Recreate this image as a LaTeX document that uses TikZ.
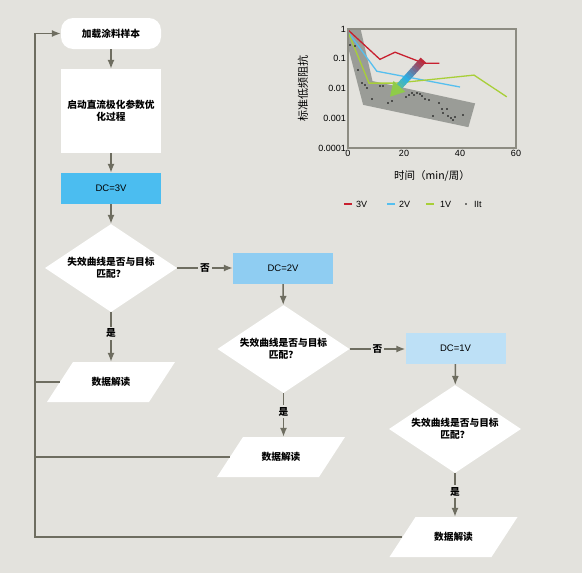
\documentclass[tikz,border=0pt]{standalone}
\usepackage{fontspec}
\setmainfont{Liberation Sans}
\newfontfamily\cjk{Noto Sans CJK SC}
\usetikzlibrary{arrows.meta,shapes.geometric}

\definecolor{bg}{HTML}{E3E2DD}
\definecolor{linec}{HTML}{6E6D60}
\definecolor{dcA}{HTML}{4BBDF0}
\definecolor{dcB}{HTML}{8FCDF2}
\definecolor{dcC}{HTML}{BDE0F6}
\definecolor{bandc}{HTML}{9A9C97}
\definecolor{frame}{HTML}{8D8C82}
\definecolor{cred}{HTML}{C8202F}
\definecolor{cblue}{HTML}{55BFEF}
\definecolor{cgreen}{HTML}{A8CF38}
\definecolor{amid}{HTML}{2AAFE6}
\definecolor{atip}{HTML}{8FCB4A}

\begin{document}
\begin{tikzpicture}[x=1pt,y=-1pt,
  conn/.style={line width=1.4pt,draw=linec},
  arr/.style={conn,-{Latex[length=9pt,width=7pt]}},
  txt/.style={font=\cjk\bfseries\fontsize{9.7}{12}\selectfont,align=center},
  box/.style={txt,fill=white,minimum width=100pt,minimum height=31pt,inner sep=0pt},
  dcbox/.style={box,font=\fontsize{9.5}{12}\selectfont},
  ask/.style={txt,diamond,fill=white,minimum width=132pt,minimum height=88pt,inner sep=0pt,aspect=1.5},
  io/.style={txt,minimum width=102pt,minimum height=40pt,inner sep=0pt},
  lab/.style={txt,fill=bg,inner sep=2pt},
  tick/.style={font=\fontsize{9}{10}\selectfont,inner sep=2pt},
  curve/.style={line width=1.3pt}]

\fill[bg] (0,0) rectangle (582,573);

\def\rail{35}

\node[box,rounded corners=12pt] (S) at (111,33.5) {加载涂料样本};
\node[box,minimum height=84pt] (P) at (111,111) {启动直流极化参数优\\化过程};
\node[dcbox,fill=dcA] (D3) at (111,188.5) {DC=3V};
\node[ask] (Q1) at (111,268) {失效曲线是否与目标\\匹配？};

\node[dcbox,fill=dcB] (D2) at (283,268.5) {DC=2V};
\node[ask] (Q2) at (283.5,349) {失效曲线是否与目标\\匹配？};

\node[dcbox,fill=dcC] (D1) at (455.5,348.5) {DC=1V};
\node[ask] (Q3) at (455,429) {失效曲线是否与目标\\匹配？};

\foreach \n/\x/\y in {R1/111/382,R2/281/457,R3/453.5/537}{
  \fill[white] (\x-64,\y+20) -- (\x+38,\y+20) -- (\x+64,\y-20) -- (\x-38,\y-20) -- cycle;
  \node[io] (\n) at (\x,\y) {数据解读};
}

\draw[arr] (S) -- (P);
\draw[arr] (P) -- (D3);
\draw[arr] (D3) -- (Q1);
\draw[arr] (Q1.south) -- node[lab,pos=0.42] (y1) {是} (Q1.south |- R1.north);
\draw[arr] (Q1.east) -- node[lab] (n1) {否} (Q1.east -| D2.west);

\draw[arr] (D2) -- (Q2);
\draw[arr] (Q2.south) -- node[lab,pos=0.42] (y2) {是} (Q2.south |- R2.north);
\draw[arr] (Q2.east) -- node[lab] (n2) {否} (Q2.east -| D1.west);

\draw[arr] (D1) -- (Q3);
\draw[arr] (Q3.south) -- node[lab,pos=0.42] (y3) {是} (Q3.south |- R3.north);

\coordinate (L) at (\rail,537);
\draw[arr] (R3.west) -- (L) |- (S.west);
\draw[conn] (R1.west) -- (R1.west -| L);
\draw[conn] (R2.west) -- (R2.west -| L);

\begin{scope}[shift={(348,148)},x=2.8pt,y=29.75pt]
\fill[bandc] (0,4) -- (4.5,4) -- (8.75,2.25) -- (45.4,1.5) -- (43,0.7) -- (5.4,1.45) -- (0,3.4) -- cycle;
\draw[curve,cblue] plot coordinates {(0,3.9) (10.3,2.58) (40,2.05)};
\draw[curve,cgreen] plot coordinates {(0,3.9) (7.5,2.18) (17,2.18) (45,2.45) (56.7,1.72)};
\draw[curve,cred] plot coordinates {(0,3.97) (11.4,2.98) (16.8,3.22) (27,2.85) (32.6,2.85)};
\draw[frame,line width=1.2pt] (0,0) rectangle (60,4);
\foreach \v/\l in {0/0.0001,1/0.001,2/0.01,3/0.1,4/1}
  \node[tick,left] (y\v) at (0,\v) {\l};
\foreach \t in {0,20,40,60}
  \node[tick,below] (x\t) at (\t,0) {\t};
\end{scope}

\foreach \p in {(350,45),(355,46),(358,70),(362,83),(365,85),(367,88),(380,86),(383,86),
  (372,99),(388,103),(392,101),(406,97),(409,95),(412,93),(414,95),(417,93),(420,94),
  (422,96),(425,99),(429,100),(433,116),(439,103),(442,109),(443,113),(447,109),
  (448,116),(451,118),(453,120),(455,117),(463,115)}
  \fill \p circle[radius=0.9pt];

\begin{scope}[shift={(423.3,60)},y=1pt,rotate=227.8]
\foreach \i in {0,...,11}{
  \pgfmathsetmacro\f{(\i+0.5)/12*35.6/49.6}
  \pgfmathtruncatemacro\m{ifthenelse(\f<0.5,100-200*\f,200-200*\f)}
  \ifdim\f pt<0.5pt \colorlet{slice}{cred!\m!amid}\else\colorlet{slice}{amid!\m!atip}\fi
  \fill[slice] (\i*2.967,-3.5) -- (\i*2.967+3.3,-3.5) -- (\i*2.967+3.3,3.5) -- (\i*2.967,3.5) -- cycle;
}
\fill[atip] (35.6,-8) -- (49.6,0) -- (35.6,8) -- cycle;
\end{scope}

\node[font=\cjk\fontsize{10.5}{12}\selectfont] (xl) at (432,176) {时间（min/周）};
\node[font=\cjk\fontsize{11}{12}\selectfont,rotate=90] (yl) at (303,88) {标准低频阻抗};

\draw[curve,cred] (344,204) -- (352,204);
\node[tick,anchor=west] (l3) at (354,204) {3V};
\draw[curve,cblue] (387,204) -- (395,204);
\node[tick,anchor=west] (l2) at (397,204) {2V};
\draw[curve,cgreen] (426,204) -- (434,204);
\node[tick,anchor=west] (l1) at (438,204) {1V};
\fill (466,204) circle[radius=0.9pt];
\node[tick,anchor=west] (lt) at (472,204) {IIt};

\end{tikzpicture}
\end{document}
